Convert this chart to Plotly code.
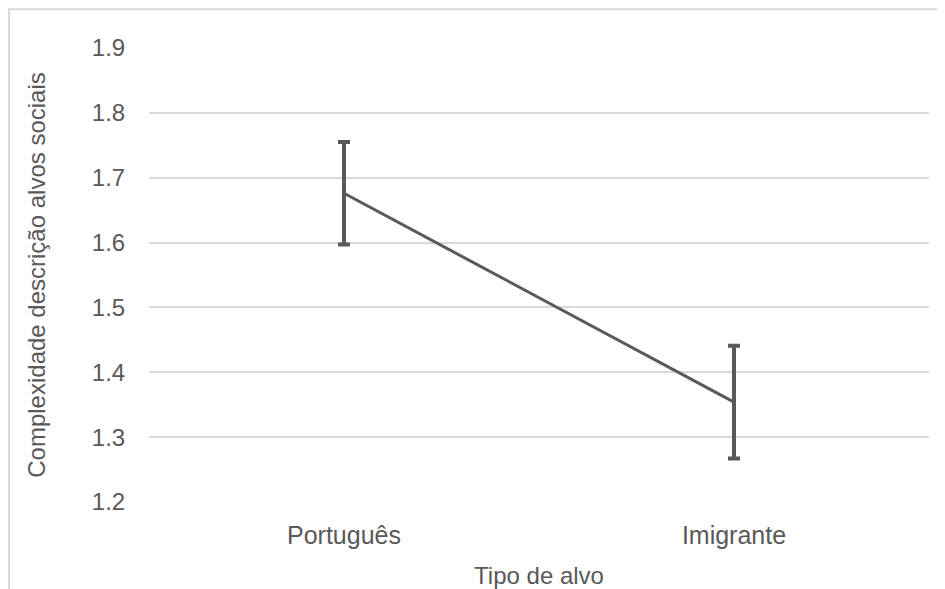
import plotly.graph_objects as go

categories = ["Português", "Imigrante"]
means = [1.676, 1.354]
errors = [0.079, 0.087]
y_ticks = [1.2, 1.3, 1.4, 1.5, 1.6, 1.7, 1.8, 1.9]
y_ticktext = ["1.2", "1.3", "1.4", "1.5", "1.6", "1.7", "1.8", "1.9"]

TXT = "#595959"
GRID = "#d9d9d9"
FONT = "Liberation Sans, Arial, sans-serif"

fig = go.Figure()
fig.add_trace(go.Scatter(
    x=categories, y=means, mode="lines",
    line=dict(color="#595959", width=3),
    error_y=dict(type="data", array=errors, visible=True,
                 color="#595959", thickness=4, width=6),
    showlegend=False, hoverinfo="skip",
))

# page body has an 8px default margin: compensate
OFF = 8
W, H = 945, 589
L, R, T, B = 149 - OFF, 16 + OFF, 48 - OFF, 85 + OFF
pw, ph = W - L - R, H - T - B

def px(x):
    return (x - OFF - L) / pw

def py(y):
    return (H - B - (y - OFF)) / ph

fig.add_shape(type="rect", xref="paper", yref="paper",
              x0=px(9), x1=px(980), y0=py(9), y1=py(640),
              line=dict(color=GRID, width=2), fillcolor="rgba(0,0,0,0)",
              layer="below")

fig.update_layout(
    width=W, height=H,
    margin=dict(l=L, r=R, t=T, b=B),
    paper_bgcolor="white", plot_bgcolor="white",
    font=dict(family=FONT, size=24, color=TXT),
    xaxis=dict(
        type="category", range=[-0.5, 1.5],
        showgrid=False, showline=False, zeroline=False,
        ticks="outside", ticklen=11, tickcolor="rgba(0,0,0,0)",
        tickfont=dict(size=25, color=TXT),
        title=dict(text="Tipo de alvo", font=dict(size=24, color=TXT), standoff=19),
    ),
    yaxis=dict(
        range=[1.2, 1.9], tickvals=y_ticks, ticktext=y_ticktext,
        showgrid=True, gridcolor=GRID, gridwidth=2,
        showline=False, zeroline=False,
        ticks="outside", ticklen=18, tickcolor="rgba(0,0,0,0)",
        tickfont=dict(size=24, color=TXT),
        title=dict(text="Complexidade descrição alvos sociais",
                   font=dict(size=24, color=TXT), standoff=39),
    ),
)

fig.write_html("out.html")
